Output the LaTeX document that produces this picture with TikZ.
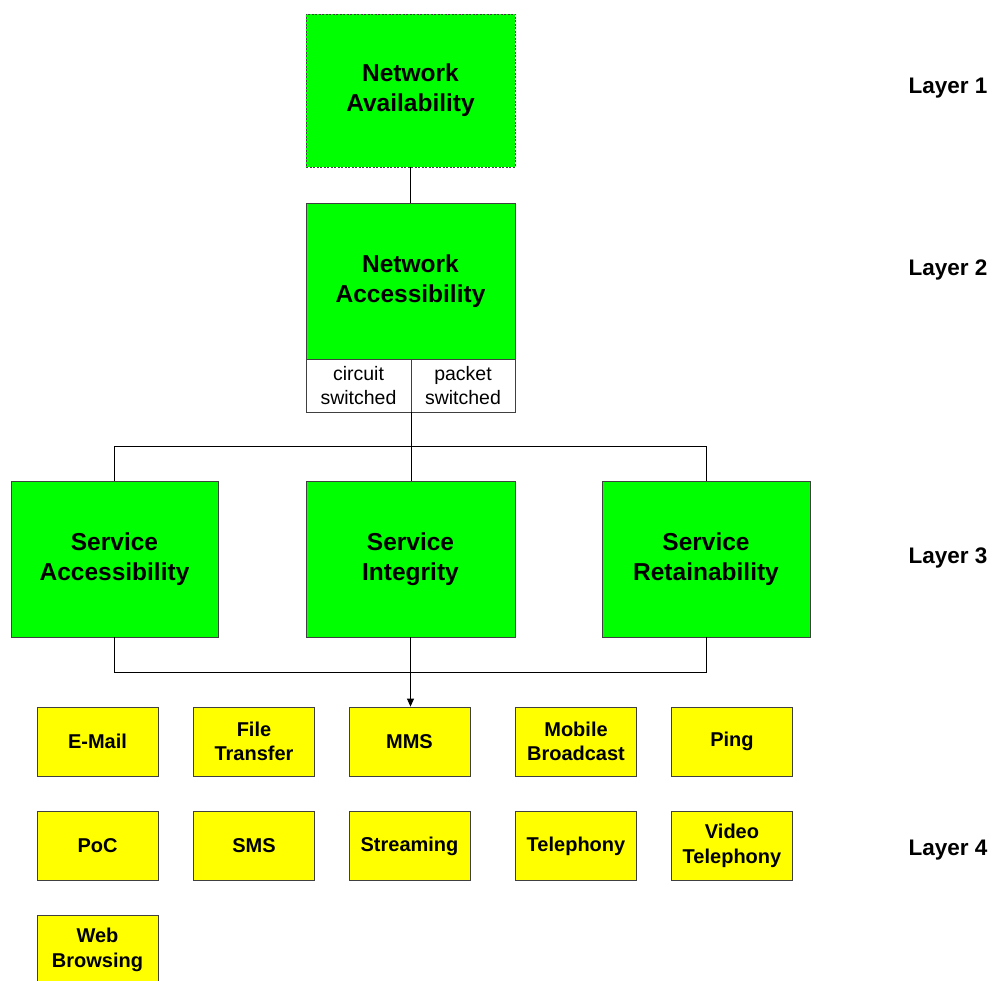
\documentclass[tikz,border=0pt]{standalone}
\usepackage{fontspec}
\setmainfont{Liberation Sans}
\usetikzlibrary{arrows.meta}
\definecolor{boxgreen}{HTML}{00FF00}
\definecolor{boxyellow}{HTML}{FFFF00}
\definecolor{edge}{HTML}{404040}
\tikzset{
  gbox/.style={draw=edge, fill=boxgreen, line width=0.8pt, minimum height=156pt, align=center,
    font=\fontsize{24.5}{30}\selectfont\bfseries, inner sep=0pt},
  ybox/.style={draw=edge, fill=boxyellow, line width=0.8pt, minimum width=121pt, minimum height=69pt,
    align=center, font=\fontsize{20}{24.5}\selectfont\bfseries, inner sep=0pt},
  wbox/.style={draw=edge, fill=white, line width=0.8pt, minimum height=53pt, align=center,
    font=\fontsize{19.5}{24}\selectfont, inner sep=0pt},
  layer/.style={font=\fontsize{22.5}{26}\selectfont\bfseries, inner sep=0pt},
  conn/.style={draw=black, line width=0.8pt},
}
\begin{document}
\begin{tikzpicture}[x=1pt,y=-1pt]
\useasboundingbox (0,0) rectangle (996,981);
\begin{scope}
\clip (0,0) rectangle (996,981);
% Layer 1 and 2
\node[gbox, minimum width=209pt, minimum height=153pt, dashed, dash pattern=on 2pt off 1.5pt] (na) at (410.5,90.5) {Network\\Availability};
\node[gbox, minimum width=209pt] (nac) at (410.5,281) {Network\\Accessibility};
\node[wbox, minimum width=105pt] (cs) at (358.5,385.5) {circuit\\switched};
\node[wbox, minimum width=104pt] (ps) at (463,385.5) {packet\\switched};
% Layer 3
\node[gbox, minimum width=207pt] (sa) at (114.5,559) {Service\\Accessibility};
\node[gbox, minimum width=209pt] (si) at (410.5,559) {Service\\Integrity};
\node[gbox, minimum width=208pt] (sr) at (706,559) {Service\\Retainability};
% Layer 4
\node[ybox] (email) at (97.5,741.5) {E-Mail};
\node[ybox] (ft) at (254,741.5) {File\\Transfer};
\node[ybox] (mms) at (409.5,741.5) {MMS};
\node[ybox] (mb) at (576,741.5) {Mobile\\Broadcast};
\node[ybox] (ping) at (732,741.5) {Ping};
\node[ybox] (poc) at (97.5,846) {PoC};
\node[ybox] (sms) at (254,846) {SMS};
\node[ybox] (str) at (409.5,846) {Streaming};
\node[ybox] (tel) at (576,846) {Telephony};
\node[ybox] (vt) at (732,846) {Video\\Telephony};
\node[ybox] (web) at (97.5,950) {Web\\Browsing};
% connectors
\draw[conn] (na.south) -- (nac.north);
\draw[conn] (cs.south east) -- (cs.south east |- si.north);
\draw[conn] (sa.north) -- ++(0,-34) -| (sr.north);
\draw[conn] (sa.south) -- ++(0,35) -| (sr.south);
\draw[conn, -{Triangle[length=8pt,width=7pt]}] (si.south) -- (si.south |- mms.north);
% layer labels
\node[layer] (l1) at (948,88) {Layer 1};
\node[layer] (l2) at (948,270) {Layer 2};
\node[layer] (l3) at (948,558) {Layer 3};
\node[layer] (l4) at (948,850) {Layer 4};
\end{scope}
\end{tikzpicture}
\end{document}
